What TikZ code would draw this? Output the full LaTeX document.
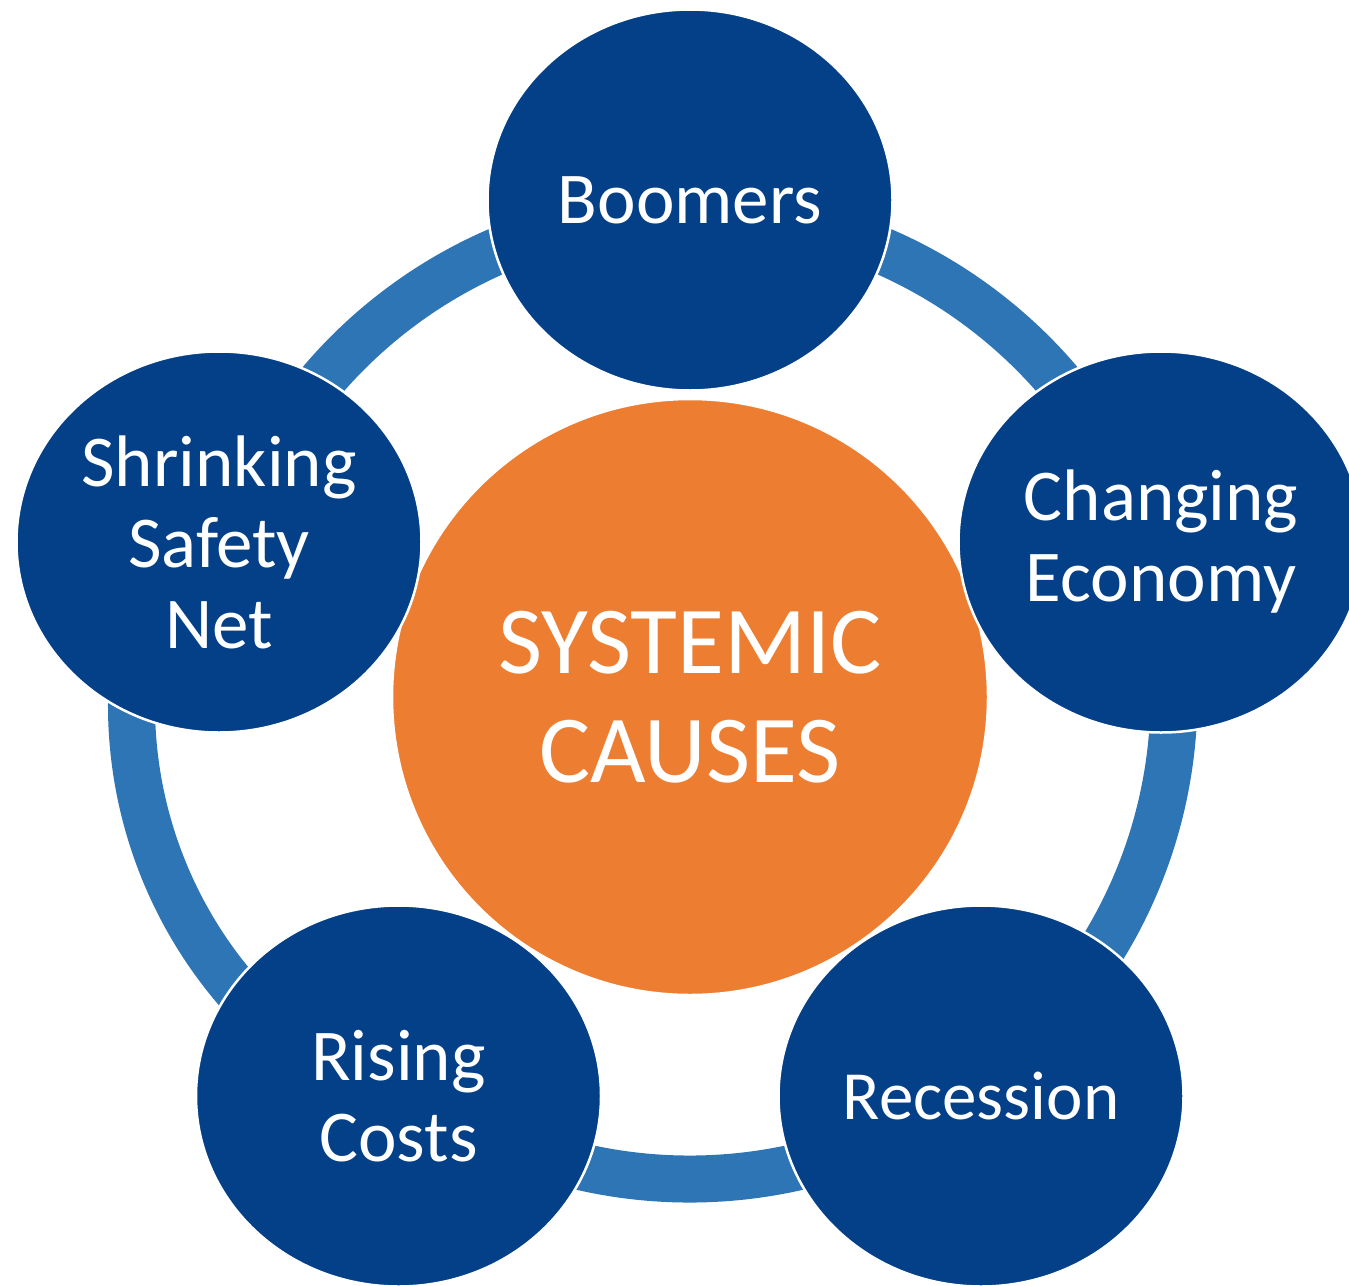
\documentclass[tikz,border=0pt]{standalone}
\usepackage{fontspec}
\setmainfont{Carlito}
\usetikzlibrary{shapes.geometric}
\definecolor{nodeblue}{RGB}{3,64,136}
\definecolor{ringblue}{RGB}{46,117,182}
\definecolor{centerorange}{RGB}{237,125,49}
\newcommand\myNodeFont{\fontsize{73}{81}\selectfont}
\newcommand\mySmallNodeFont{\fontsize{69}{77}\selectfont}
\newcommand\myCenterFont{\fontsize{96}{109}\selectfont}
\begin{document}
\begin{tikzpicture}[x=1pt,y=1pt,
  cause/.style={ellipse, fill=nodeblue, draw=white, line width=2.5pt,
    minimum width=405pt, minimum height=381pt, inner sep=0pt, outer sep=0pt,
    text=white, align=center, font=\myNodeFont},
  core/.style={circle, fill=centerorange, draw=white, line width=2.5pt,
    minimum size=596pt, inner sep=0pt, text=white, align=center, font=\myCenterFont},
  ring/.style={draw=ringblue, line width=47pt}]
\useasboundingbox (0,0) rectangle (1349,-1285);
\clip (0,0) rectangle (1349,-1285);
\coordinate (hub) at (690,-695);
\coordinate (leftarc) at (568.5,-705.5);
\draw[ring] (hub) ++(-126:484) arc[start angle=-126, end angle=162, radius=484];
\draw[ring] (leftarc) ++(170:437) arc[start angle=170, end angle=228, radius=437];
\node[core] (core) at (690,-697) {SYSTEMIC\\CAUSES};
\node[cause] (boomers) at (690,-200) {Boomers};
\node[cause] (economy) at (1161,-542) {Changing\\Economy};
\node[cause, font=\mySmallNodeFont] (recession) at (981,-1096) {Recession};
\node[cause] (costs) at (398.5,-1096) {Rising\\Costs};
\node[cause] (safety) at (219,-542) {Shrinking\\Safety\\Net};
\end{tikzpicture}
\end{document}
